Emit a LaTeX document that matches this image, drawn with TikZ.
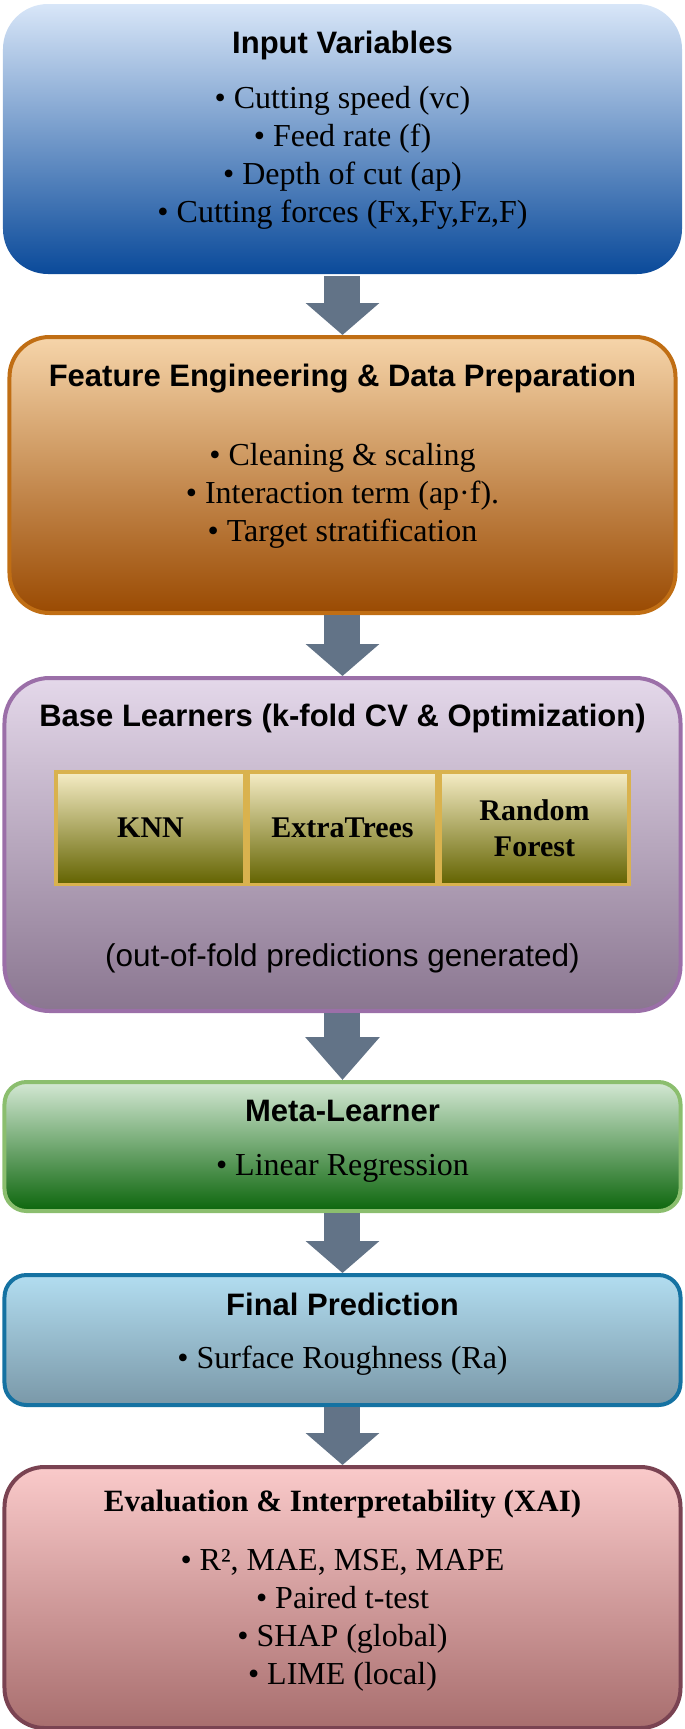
\documentclass[tikz,border=0pt]{standalone}
\usepackage{fontspec}
\setmainfont{Liberation Serif}
\setsansfont{Liberation Sans}
\usepackage{tikz}
\usetikzlibrary{arrows.meta,positioning}
\definecolor{InputTop}{HTML}{D8E6F8}
\definecolor{InputBottom}{HTML}{0A4A9A}
\definecolor{PrepTop}{HTML}{F6D5AA}
\definecolor{PrepBottom}{HTML}{9A4A02}
\definecolor{PrepLine}{HTML}{C06E14}
\definecolor{BaseTop}{HTML}{E4D8EA}
\definecolor{BaseBottom}{HTML}{8A7690}
\definecolor{BaseLine}{HTML}{9B6FA8}
\definecolor{LearnerTop}{HTML}{F6EDC6}
\definecolor{LearnerBottom}{HTML}{636300}
\definecolor{LearnerLine}{HTML}{D9B24E}
\definecolor{MetaTop}{HTML}{D4E8D4}
\definecolor{MetaBottom}{HTML}{0C660C}
\definecolor{MetaLine}{HTML}{8BBE6E}
\definecolor{FinalTop}{HTML}{B2DDF0}
\definecolor{FinalBottom}{HTML}{7A98A8}
\definecolor{FinalLine}{HTML}{1572A2}
\definecolor{EvalTop}{HTML}{FACACA}
\definecolor{EvalBottom}{HTML}{A86E6E}
\definecolor{EvalLine}{HTML}{7A4352}
\definecolor{FlowGrey}{HTML}{627387}

\begin{document}
\begin{tikzpicture}[x=1pt,y=1pt,
  node distance=60pt,
  stage/.style={rounded corners=40pt,minimum width=676pt,line width=4pt,inner sep=0pt},
  learner/.style={draw=LearnerLine,line width=3.5pt,top color=LearnerTop,bottom color=LearnerBottom,
    minimum width=188.5pt,minimum height=112.5pt,inner sep=0pt,align=center,
    font=\bfseries\fontsize{30}{36.5}\selectfont},
  head/.style={anchor=base,inner sep=0pt,font=\sffamily\bfseries\fontsize{31}{37}\selectfont},
  items/.style={anchor=base,inner sep=0pt,align=center,font=\fontsize{32}{38}\selectfont},
  flowarrow/.style={draw=FlowGrey,line width=36pt,-{Triangle[width=72pt,length=#1]}},
  flowarrow/.default=32pt
]
\useasboundingbox (-342.5,0) rectangle (342.5,-1729);

\node[stage,draw=none,rounded corners=45pt,minimum width=679pt,minimum height=270pt,
  top color=InputTop,bottom color=InputBottom,anchor=north] (input) at (0,-2) {};
\node[stage,draw=PrepLine,minimum width=666pt,minimum height=276pt,
  top color=PrepTop,bottom color=PrepBottom,below=59pt of input] (prep) {};
\node[stage,draw=BaseLine,rounded corners=45pt,minimum height=333pt,
  top color=BaseTop,bottom color=BaseBottom,below=61pt of prep] (base) {};
\node[stage,draw=MetaLine,rounded corners=22pt,minimum height=129pt,
  top color=MetaTop,bottom color=MetaBottom,below=67pt of base] (meta) {};
\node[stage,draw=FinalLine,rounded corners=22pt,minimum height=130pt,
  top color=FinalTop,bottom color=FinalBottom,below=60pt of meta] (final) {};
\node[stage,draw=EvalLine,minimum height=261pt,
  top color=EvalTop,bottom color=EvalBottom,below=58pt of final] (eval) {};

\node[head] (inputHead) at ([yshift=-51pt]input.north) {Input Variables};
\node[items] (inputList) at ([yshift=-220pt]input.north) {\textbullet\ Cutting speed (vc)\\
\textbullet\ Feed rate (f)\\ \textbullet\ Depth of cut (ap)\\ \textbullet\ Cutting forces (Fx,Fy,Fz,F)};

\node[head] (prepHead) at ([yshift=-51pt]prep.north) {Feature Engineering \& Data Preparation};
\node[items] (prepList) at ([yshift=-206pt]prep.north) {\textbullet\ Cleaning \& scaling\\
\textbullet\ Interaction term (ap·f).\\ \textbullet\ Target stratification};

\node[head] (baseHead) at ([yshift=-50pt]base.north) {Base Learners (k-fold CV \& Optimization)};
\node[learner] (extra) at ([yshift=-152pt]base.north) {ExtraTrees};
\node[learner,left=0pt of extra] (knn) {KNN};
\node[learner,right=0pt of extra] (forest) {Random\\Forest};
\node[head,font=\sffamily\fontsize{31.5}{37}\selectfont] (baseNote) at ([yshift=-290pt]base.north)
  {(out-of-fold predictions generated)};

\node[head] (metaHead) at ([yshift=-41pt]meta.north) {Meta-Learner};
\node[items] (metaList) at ([yshift=-95pt]meta.north) {\textbullet\ Linear Regression};

\node[head] (finalHead) at ([yshift=-42pt]final.north) {Final Prediction};
\node[items] (finalList) at ([yshift=-95pt]final.north) {\textbullet\ Surface Roughness (Ra)};

\node[head,font=\bfseries\fontsize{31}{37}\selectfont] (evalHead) at ([yshift=-46pt]eval.north)
  {Evaluation \& Interpretability (XAI)};
\node[items] (evalList) at ([yshift=-219pt]eval.north) {\textbullet\ R², MAE, MSE, MAPE\\
\textbullet\ Paired t-test\\ \textbullet\ SHAP (global)\\ \textbullet\ LIME (local)};

\draw[flowarrow] (input) -- (prep);
\draw[flowarrow] (prep) -- (base);
\draw[flowarrow=43pt] (base) -- (meta);
\draw[flowarrow] (meta) -- (final);
\draw[flowarrow] (final) -- (eval);
\end{tikzpicture}
\end{document}
